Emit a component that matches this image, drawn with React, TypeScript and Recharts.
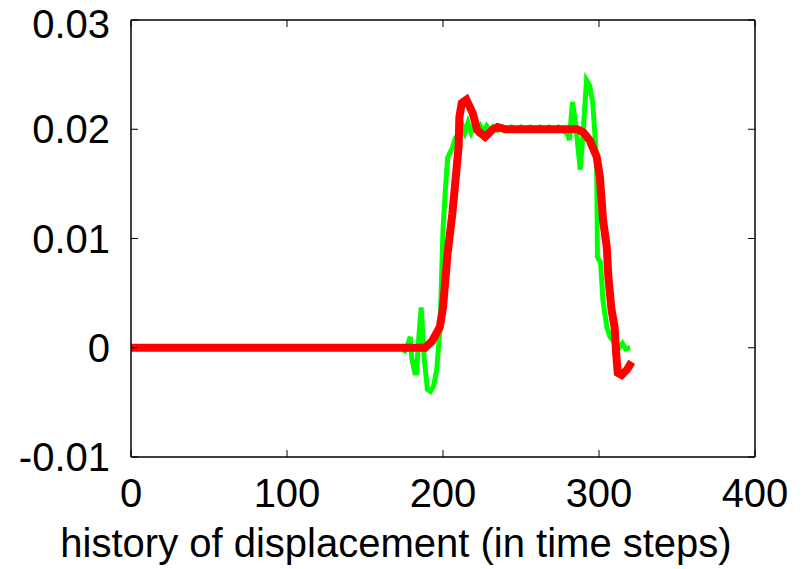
import { LineChart, Line, XAxis, YAxis, Label, ReferenceLine } from 'recharts';

// smoothed displacement (red)
const redSteps = [0, 188.5, 193, 198, 200, 203, 206, 208, 210, 210.5, 212, 215, 219, 222, 227, 232, 235, 240, 286, 290, 294, 298.5, 300.6, 302.6, 305, 306, 308, 310, 311, 312, 314.5, 318, 321];
const redValues = [0, 0, 0.0006, 0.0019, 0.0037, 0.0087, 0.0123, 0.0153, 0.0184, 0.0211, 0.0224, 0.0227, 0.0215, 0.0199, 0.0193, 0.02, 0.0202, 0.02, 0.02, 0.0197, 0.019, 0.0175, 0.0156, 0.0117, 0.0092, 0.0065, 0.0035, 0.0019, -0.0005, -0.0023, -0.0025, -0.002, -0.0013];

// raw displacement (green)
const greenSteps = [175, 177, 179, 180, 182, 183, 184, 186, 188, 190, 192, 194, 196, 198, 199, 200, 201.5, 203, 206, 208, 210, 212, 214, 216, 218, 220, 222, 224, 226, 228, 230, 232, 235, 238, 241, 244, 247, 250, 253, 256, 259, 262, 265, 268, 271, 274, 277, 280, 281, 283, 285, 288, 290, 292, 294, 296, 298.5, 299, 301, 302.5, 305, 307, 310, 313, 315, 317, 320];
const greenValues = [-0.0005, 0.0001, 0.001, -0.001, -0.0023, -0.0023, 0, 0.0037, -0.001, -0.0038, -0.004, -0.0035, -0.002, 0.0016, 0.006, 0.0108, 0.0144, 0.0174, 0.0183, 0.0192, 0.0195, 0.0205, 0.0197, 0.0206, 0.0197, 0.0204, 0.0198, 0.0203, 0.0198, 0.0203, 0.0199, 0.0202, 0.0199, 0.0202, 0.0199, 0.0202, 0.0199, 0.0202, 0.0199, 0.0202, 0.0199, 0.0202, 0.0199, 0.0202, 0.0199, 0.0202, 0.0199, 0.0195, 0.019, 0.0225, 0.0205, 0.0163, 0.02, 0.0245, 0.024, 0.0224, 0.0172, 0.0083, 0.0078, 0.0044, 0.0019, 0.001, 0.0005, 0, 0.0004, -0.0001, 0];

const xTicks = [0, 100, 200, 300, 400];
const yTicks = [-0.01, 0, 0.01, 0.02, 0.03];
const xMin = 0;
const xMax = 400;
const yMin = -0.01;
const yMax = 0.03;

const redData = redSteps.map((x, i) => ({ x, y: redValues[i] }));
const greenData = greenSteps.map((x, i) => ({ x, y: greenValues[i] }));

// mirror tick length in data units (about 7px)
const tickDX = 4.5;
const tickDY = 0.00064;

const fam = '"Liberation Sans", Arial, sans-serif';
const font = { fontSize: 40, fill: '#000', fontFamily: fam };
const axisLine = { stroke: '#000', strokeWidth: 1.5 };

export default function App() {
  return (
    <div>
      <style>{'body{margin:0}'}</style>
      <LineChart width={803} height={569} margin={{ top: 20, right: 48, left: 0, bottom: 0 }}>
        <XAxis
          dataKey="x"
          type="number"
          domain={[xMin, xMax]}
          ticks={xTicks}
          height={112}
          tickSize={-7}
          tickMargin={29}
          axisLine={axisLine}
          tickLine={{ stroke: '#000' }}
          tick={font}
          allowDataOverflow
        >
          <Label
            value="history of displacement (in time steps)"
            position="insideBottom"
            offset={12}
            dx={-47}
            style={{ fontSize: 40, fill: '#000', fontFamily: fam }}
          />
        </XAxis>
        <YAxis
          type="number"
          domain={[yMin, yMax]}
          ticks={yTicks}
          width={131}
          tickSize={-7}
          tickMargin={28}
          axisLine={axisLine}
          tickLine={{ stroke: '#000' }}
          tick={font}
          tickFormatter={(v: number) => String(v)}
        />
        {/* frame top and right */}
        <ReferenceLine y={yMax} stroke="#000" strokeWidth={1.5} />
        <ReferenceLine x={xMax} stroke="#000" strokeWidth={1.5} />
        {/* mirrored ticks */}
        {xTicks.map((t) => (
          <ReferenceLine
            key={`tx${t}`}
            segment={[{ x: t, y: yMax }, { x: t, y: yMax - tickDY }]}
            stroke="#000"
          />
        ))}
        {yTicks.map((t) => (
          <ReferenceLine
            key={`ty${t}`}
            segment={[{ x: xMax, y: t }, { x: xMax - tickDX, y: t }]}
            stroke="#000"
          />
        ))}
        <Line
          data={greenData}
          dataKey="y"
          type="linear"
          stroke="#00ff00"
          strokeWidth={5}
          dot={false}
          isAnimationActive={false}
        />
        <Line
          data={redData}
          dataKey="y"
          type="linear"
          stroke="#ff0000"
          strokeWidth={8}
          dot={false}
          isAnimationActive={false}
        />
      </LineChart>
    </div>
  );
}
